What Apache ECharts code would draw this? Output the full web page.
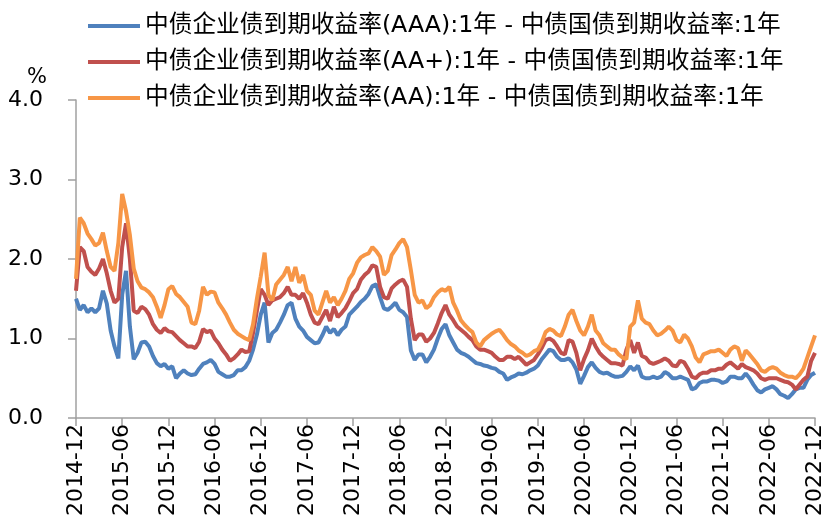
<!DOCTYPE html>
<html>
<head>
<meta charset="utf-8">
<script src="https://cdn.jsdelivr.net/npm/echarts@6/dist/echarts.min.js"></script>
<style>
html,body{margin:0;padding:0;background:#fff;}
#chart{width:828px;height:529px;}
</style>
</head>
<body>
<div id="chart"></div>
<script>
// Series names (legend)
var seriesNames = [
  "中债企业债到期收益率(AAA):1年 - 中债国债到期收益率:1年",
  "中债企业债到期收益率(AA+):1年 - 中债国债到期收益率:1年",
  "中债企业债到期收益率(AA):1年 - 中债国债到期收益率:1年"
];

// Semi-monthly observation dates, 2014-12-01 ... 2022-12-01
var dates = [];
(function(){
  var y = 2014, m = 12;
  while (y < 2022 || (y === 2022 && m <= 12)) {
    var mm = (m < 10 ? "0" : "") + m;
    dates.push(y + "-" + mm + "-01");
    if (y === 2022 && m === 12) break;
    dates.push(y + "-" + mm + "-16");
    m++; if (m > 12) { m = 1; y++; }
  }
})();

// Spread values (%)
var spreadAAA = [
  1.5,1.36,1.42,1.33,1.38,1.33,1.38,1.6,1.44,1.1,
  0.9,0.75,1.55,1.85,1.15,0.74,0.82,0.95,0.96,0.9,
  0.78,0.69,0.65,0.68,0.62,0.65,0.5,0.56,0.6,0.56,
  0.54,0.55,0.62,0.68,0.7,0.73,0.68,0.58,0.55,0.52,
  0.52,0.54,0.6,0.6,0.64,0.72,0.86,1.05,1.3,1.45,
  0.95,1.07,1.11,1.2,1.3,1.42,1.45,1.25,1.15,1.1,
  1.02,0.98,0.94,0.95,1.04,1.15,1.07,1.12,1.04,1.11,
  1.15,1.3,1.35,1.4,1.46,1.5,1.56,1.66,1.68,1.52,
  1.38,1.36,1.4,1.45,1.36,1.33,1.27,0.85,0.73,0.8,
  0.8,0.7,0.77,0.86,1.0,1.12,1.18,1.04,0.95,0.86,
  0.82,0.8,0.77,0.73,0.69,0.68,0.66,0.65,0.63,0.62,
  0.58,0.56,0.48,0.51,0.53,0.56,0.55,0.57,0.6,0.62,
  0.66,0.74,0.8,0.86,0.84,0.77,0.73,0.73,0.75,0.7,
  0.61,0.43,0.53,0.64,0.7,0.63,0.58,0.56,0.57,0.54,
  0.52,0.52,0.53,0.58,0.65,0.6,0.66,0.52,0.5,0.5,
  0.52,0.5,0.52,0.58,0.55,0.5,0.5,0.52,0.5,0.48,
  0.36,0.38,0.44,0.46,0.46,0.48,0.48,0.47,0.44,0.46,
  0.52,0.52,0.5,0.5,0.56,0.5,0.42,0.35,0.32,0.36,
  0.38,0.4,0.36,0.3,0.28,0.25,0.3,0.36,0.38,0.38,
  0.48,0.54,0.57
];
var spreadAAplus = [
  1.6,2.15,2.1,1.9,1.84,1.8,1.88,2.0,1.82,1.6,
  1.45,1.5,2.15,2.45,2.0,1.35,1.32,1.4,1.37,1.3,
  1.18,1.11,1.07,1.13,1.09,1.08,1.03,0.98,0.94,0.9,
  0.9,0.88,0.96,1.12,1.08,1.1,1.0,0.94,0.86,0.8,
  0.72,0.75,0.8,0.86,0.83,0.84,1.07,1.35,1.62,1.55,
  1.42,1.48,1.5,1.52,1.57,1.65,1.55,1.55,1.5,1.57,
  1.45,1.3,1.2,1.18,1.27,1.36,1.22,1.4,1.27,1.32,
  1.38,1.47,1.57,1.62,1.74,1.8,1.84,1.92,1.9,1.65,
  1.52,1.5,1.63,1.68,1.72,1.74,1.65,1.25,0.98,1.05,
  1.05,0.96,1.0,1.07,1.19,1.32,1.42,1.3,1.23,1.15,
  1.11,1.07,1.02,0.98,0.9,0.86,0.86,0.84,0.82,0.77,
  0.73,0.73,0.77,0.77,0.74,0.77,0.72,0.67,0.7,0.73,
  0.8,0.88,0.98,1.0,0.97,0.9,0.82,0.8,0.98,0.96,
  0.82,0.6,0.74,0.85,1.0,0.9,0.82,0.77,0.73,0.69,
  0.69,0.68,0.66,0.86,0.98,0.82,0.95,0.78,0.76,0.7,
  0.68,0.7,0.72,0.75,0.72,0.66,0.65,0.72,0.7,0.62,
  0.52,0.5,0.55,0.57,0.57,0.6,0.6,0.62,0.62,0.67,
  0.7,0.66,0.62,0.68,0.64,0.62,0.6,0.56,0.5,0.48,
  0.5,0.5,0.5,0.48,0.46,0.45,0.42,0.36,0.42,0.48,
  0.52,0.72,0.82
];
var spreadAA = [
  1.75,2.52,2.45,2.32,2.25,2.17,2.2,2.33,2.1,1.9,
  1.85,2.2,2.82,2.6,2.3,1.88,1.72,1.64,1.62,1.58,
  1.52,1.4,1.26,1.42,1.62,1.66,1.56,1.52,1.46,1.4,
  1.2,1.18,1.35,1.65,1.55,1.59,1.58,1.45,1.38,1.3,
  1.2,1.11,1.06,1.03,1.0,0.98,1.18,1.5,1.78,2.08,
  1.55,1.48,1.68,1.74,1.8,1.9,1.72,1.9,1.7,1.8,
  1.6,1.55,1.35,1.3,1.45,1.6,1.45,1.52,1.42,1.5,
  1.6,1.75,1.82,1.95,2.02,2.05,2.07,2.15,2.1,2.03,
  1.8,1.85,2.05,2.12,2.2,2.25,2.15,1.86,1.55,1.45,
  1.48,1.38,1.42,1.52,1.58,1.62,1.6,1.65,1.45,1.35,
  1.23,1.17,1.12,1.08,0.95,0.9,0.98,1.02,1.06,1.09,
  1.11,1.05,0.98,0.93,0.9,0.85,0.82,0.78,0.8,0.84,
  0.86,0.95,1.08,1.12,1.1,1.05,1.03,1.15,1.3,1.36,
  1.22,1.1,1.04,1.15,1.3,1.1,1.04,0.94,0.9,0.86,
  0.86,0.8,0.76,0.74,1.15,1.2,1.48,1.25,1.2,1.18,
  1.1,1.04,1.06,1.1,1.15,1.1,0.98,0.95,1.05,1.0,
  0.9,0.76,0.7,0.8,0.82,0.84,0.84,0.86,0.82,0.78,
  0.86,0.9,0.88,0.72,0.85,0.8,0.74,0.68,0.6,0.58,
  0.62,0.64,0.62,0.57,0.54,0.52,0.52,0.5,0.55,0.62,
  0.76,0.9,1.04
];
var seriesColors = ["#4F81BD", "#C0504D", "#F79646"];
var yTicks = [0, 1, 2, 3, 4];

function isHalfYear(idx, val) {
  var s = dates[idx];
  return /-(06|12)-01$/.test(s);
}

var chart = echarts.init(document.getElementById('chart'), null, {renderer: 'canvas'});
var seriesData = [spreadAAA, spreadAAplus, spreadAA];
var option = {
  animation: false,
  backgroundColor: '#ffffff',
  grid: {left: 76, right: 13, top: 100, bottom: 111, containLabel: false},
  legend: {
    orient: 'vertical',
    left: 83,
    top: 7,
    itemWidth: 52,
    itemHeight: 4,
    itemGap: 8,
    icon: 'rect',
    textStyle: {fontFamily: 'DejaVu Sans, "Noto Sans CJK SC", sans-serif', fontSize: 23.7, color: '#000', lineHeight: 28},
    data: seriesNames
  },
  xAxis: {
    type: 'category',
    data: dates,
    boundaryGap: false,
    axisLine: {lineStyle: {color: '#A0A0A0', width: 1.5}},
    axisTick: {show: true, interval: isHalfYear, length: 8, lineStyle: {color: '#A0A0A0', width: 1.5}},
    axisLabel: {
      interval: isHalfYear,
      rotate: 90,
      margin: 6,
      color: '#000',
      fontFamily: 'DejaVu Sans, sans-serif',
      fontSize: 22,
      formatter: function(v){ return v.slice(0, 7); }
    },
    splitLine: {show: false}
  },
  yAxis: {
    type: 'value',
    min: yTicks[0],
    max: yTicks[yTicks.length - 1],
    interval: 1,
    name: '%',
    nameLocation: 'end',
    nameGap: 12,
    nameTextStyle: {fontFamily: 'DejaVu Sans, sans-serif', fontSize: 21, color: '#000', align: 'right', padding: [0, 29, 0, 0]},
    axisLine: {show: true, lineStyle: {color: '#A0A0A0', width: 1.5}},
    axisTick: {show: true, length: 8, lineStyle: {color: '#A0A0A0', width: 1.5}},
    axisLabel: {
      margin: 33,
      color: '#000',
      fontFamily: 'DejaVu Sans, sans-serif',
      fontSize: 22,
      formatter: function(v){ return v.toFixed(1); }
    },
    splitLine: {show: false}
  },
  series: seriesNames.map(function(n, i){
    return {
      name: n,
      type: 'line',
      data: seriesData[i],
      symbol: 'none',
      smooth: false,
      color: seriesColors[i],
      lineStyle: {width: 4, color: seriesColors[i]}
    };
  })
};
chart.setOption(option);
</script>
</body>
</html>
